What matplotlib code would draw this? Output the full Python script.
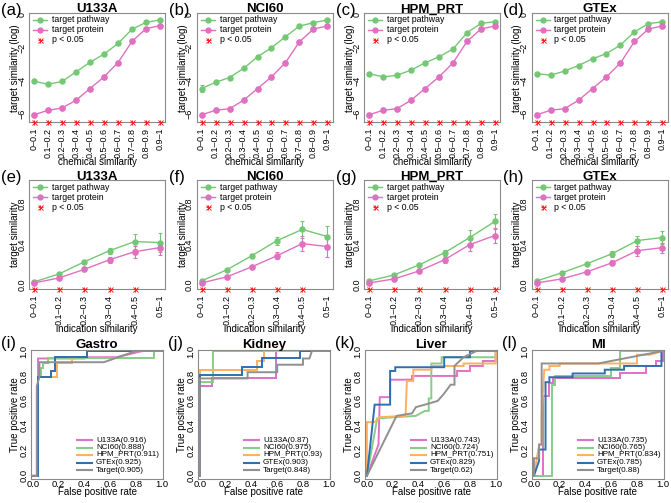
import matplotlib
matplotlib.use('Agg')
import matplotlib.pyplot as plt

plt.rcParams['font.family'] = ['Liberation Sans', 'DejaVu Sans']

# ---- data -------------------------------------------------------------
chem_bins = ['0–0.1', '0.1–0.2', '0.2–0.3', '0.3–0.4', '0.4–0.5',
             '0.5–0.6', '0.6–0.7', '0.7–0.8', '0.8–0.9', '0.9–1']
ind_bins = ['0–0.1', '0.1–0.2', '0.2–0.3', '0.3–0.4', '0.4–0.5', '0.5–1']
datasets = ['U133A', 'NCI60', 'HPM_PRT', 'GTEx']

# row 1: log target similarity vs chemical similarity
u133a_chem_pathway = [-4.02, -4.21, -4.04, -3.46, -2.87, -2.38, -1.73, -0.87, -0.45, -0.30]
u133a_chem_protein = [-6.06, -5.79, -5.65, -5.18, -4.47, -3.76, -2.89, -1.61, -0.83, -0.65]
nci60_chem_pathway = [-4.47, -4.09, -3.80, -3.25, -2.54, -1.99, -1.32, -0.67, -0.47, -0.30]
nci60_chem_protein = [-6.06, -5.79, -5.69, -5.18, -4.47, -3.76, -2.89, -1.63, -0.85, -0.67]
hpm_chem_pathway = [-3.56, -3.76, -3.66, -3.35, -2.91, -2.54, -2.07, -1.08, -0.51, -0.41]
hpm_chem_protein = [-6.06, -5.79, -5.69, -5.18, -4.47, -3.76, -2.91, -1.61, -0.85, -0.67]
gtex_chem_pathway = [-3.56, -3.66, -3.41, -3.07, -2.66, -2.34, -1.83, -1.02, -0.53, -0.41]
gtex_chem_protein = [-6.06, -5.79, -5.69, -5.18, -4.47, -3.76, -2.91, -1.61, -0.85, -0.67]
u133a_chem_pathway_err = [0.08, 0.06, 0.05, 0.04, 0.04, 0.04, 0.04, 0.05, 0.05, 0.05]
nci60_chem_pathway_err = [0.20, 0.08, 0.06, 0.05, 0.04, 0.04, 0.04, 0.05, 0.05, 0.05]
hpm_chem_pathway_err = [0.08, 0.06, 0.05, 0.04, 0.04, 0.04, 0.04, 0.05, 0.05, 0.05]
gtex_chem_pathway_err = [0.08, 0.06, 0.05, 0.04, 0.04, 0.04, 0.04, 0.05, 0.05, 0.05]
chem_protein_err = [0.10, 0.07, 0.06, 0.05, 0.05, 0.05, 0.05, 0.06, 0.06, 0.06]
u133a_chem_sig = [1, 1, 1, 1, 1, 1, 1, 1, 1, 1]
nci60_chem_sig = [1, 1, 1, 1, 1, 1, 1, 1, 1, 1]
hpm_chem_sig = [1, 1, 1, 1, 1, 1, 1, 1, 1, 1]
gtex_chem_sig = [1, 1, 1, 1, 1, 1, 1, 1, 1, 1]

# row 2: target similarity vs indication similarity
u133a_ind_pathway = [0.03, 0.11, 0.23, 0.34, 0.43, 0.42]
u133a_ind_protein = [0.02, 0.07, 0.155, 0.25, 0.33, 0.37]
nci60_ind_pathway = [0.04, 0.15, 0.29, 0.44, 0.55, 0.48]
nci60_ind_protein = [0.02, 0.08, 0.18, 0.29, 0.41, 0.38]
hpm_ind_pathway = [0.04, 0.10, 0.20, 0.32, 0.47, 0.63]
hpm_ind_protein = [0.02, 0.06, 0.14, 0.25, 0.40, 0.49]
gtex_ind_pathway = [0.04, 0.12, 0.21, 0.31, 0.44, 0.47]
gtex_ind_protein = [0.02, 0.06, 0.13, 0.22, 0.34, 0.37]
u133a_ind_pathway_err = [0.01, 0.01, 0.02, 0.03, 0.07, 0.09]
u133a_ind_protein_err = [0.01, 0.01, 0.02, 0.03, 0.06, 0.07]
nci60_ind_pathway_err = [0.01, 0.01, 0.02, 0.04, 0.085, 0.10]
nci60_ind_protein_err = [0.01, 0.01, 0.02, 0.035, 0.075, 0.10]
hpm_ind_pathway_err = [0.01, 0.01, 0.015, 0.03, 0.07, 0.075]
hpm_ind_protein_err = [0.01, 0.01, 0.015, 0.03, 0.065, 0.075]
gtex_ind_pathway_err = [0.01, 0.01, 0.015, 0.03, 0.05, 0.06]
gtex_ind_protein_err = [0.01, 0.01, 0.015, 0.025, 0.05, 0.05]
u133a_ind_sig = [1, 1, 1, 1, 1, 0]
nci60_ind_sig = [1, 1, 1, 1, 1, 0]
hpm_ind_sig = [1, 1, 1, 1, 1, 1]
gtex_ind_sig = [1, 1, 1, 1, 1, 1]

# row 3: ROC curves (fpr, tpr)
diseases = ['Gastro', 'Kidney', 'Liver', 'MI']
roc_sources = ['U133A', 'NCI60', 'HPM_PRT', 'GTEx', 'Target']
gastro_auc = [0.916, 0.888, 0.911, 0.925, 0.905]
kidney_auc = [0.87, 0.975, 0.93, 0.903, 0.848]
liver_auc = [0.743, 0.724, 0.751, 0.829, 0.62]
mi_auc = [0.735, 0.765, 0.834, 0.785, 0.88]

gastro_u133a = ([0, 0.04, 0.04, 0.10, 0.40, 0.40, 0.65, 0.85, 1],
                [0, 0, 0.94, 0.94, 0.94, 0.95, 0.95, 1.0, 1])
gastro_nci60 = ([0, 0.04, 0.04, 0.06, 0.06, 0.08, 0.08, 0.12, 0.12, 0.94, 0.94, 1],
                [0, 0, 0.79, 0.79, 0.86, 0.86, 0.90, 0.90, 0.94, 0.94, 1.0, 1])
gastro_hpm = ([0, 0.04, 0.04, 0.19, 0.19, 0.30, 0.30, 0.42, 0.42, 1],
              [0, 0, 0.79, 0.79, 0.90, 0.90, 0.95, 0.95, 1.0, 1])
gastro_gtex = ([0, 0.04, 0.04, 0.14, 0.14, 0.17, 0.17, 0.42, 0.42, 1],
               [0, 0, 0.79, 0.79, 0.84, 0.84, 0.95, 0.95, 1.0, 1])
gastro_target = ([0, 0.03, 0.03, 0.05, 0.05, 0.55, 0.80, 1],
                 [0, 0, 0.72, 0.79, 0.91, 0.91, 1.0, 1])

kidney_u133a = ([0, 0, 0.09, 0.09, 0.59, 0.59, 1],
                [0, 0.72, 0.72, 0.78, 0.78, 1.0, 1])
kidney_nci60 = ([0, 0, 0.10, 0.10, 1],
                [0, 0.75, 0.75, 1.0, 1])
kidney_hpm = ([0, 0, 0.44, 0.44, 0.50, 0.50, 1],
              [0, 0.85, 0.85, 0.92, 0.92, 1.0, 1])
kidney_gtex = ([0, 0, 0.33, 0.33, 0.48, 0.48, 0.78, 0.78, 1],
               [0, 0.81, 0.81, 0.87, 0.87, 0.94, 0.94, 1.0, 1])
kidney_target = ([0, 0, 0.37, 0.37, 0.60, 0.60, 0.80, 0.80, 0.85, 0.87, 1],
                 [0, 0.78, 0.78, 0.83, 0.83, 0.89, 0.89, 0.94, 0.94, 1.0, 1])

liver_u133a = ([0, 0.09, 0.10, 0.18, 0.18, 0.35, 0.35, 0.70, 0.70, 0.80, 0.80, 0.90, 0.90, 1, 1],
               [0, 0.25, 0.63, 0.63, 0.77, 0.77, 0.80, 0.80, 0.84, 0.84, 0.88, 0.88, 0.92, 0.92, 1])
liver_nci60 = ([0, 0.08, 0.38, 0.45, 0.48, 0.48, 0.50, 0.50, 0.58, 0.58, 1, 1],
               [0, 0.46, 0.48, 0.52, 0.52, 0.62, 0.62, 0.90, 0.90, 0.95, 0.95, 1])
liver_hpm = ([0, 0, 0.06, 0.10, 0.30, 0.31, 0.36, 0.36, 0.50, 0.50, 0.75, 0.75, 1, 1],
             [0, 0.43, 0.43, 0.47, 0.48, 0.76, 0.76, 0.85, 0.85, 0.88, 0.88, 0.90, 0.90, 1])
liver_gtex = ([0, 0.06, 0.18, 0.18, 0.22, 0.22, 0.60, 0.60, 0.80, 0.80, 1],
              [0, 0.57, 0.57, 0.84, 0.84, 0.87, 0.87, 0.95, 0.95, 1.0, 1])
liver_target = ([0, 0.23, 0.35, 0.38, 0.45, 0.55, 0.60, 0.65, 0.68, 0.68, 0.75, 0.85, 1],
                [0, 0.48, 0.50, 0.55, 0.57, 0.60, 0.66, 0.73, 0.73, 0.88, 0.95, 1.0, 1])

mi_u133a = ([0, 0.07, 0.07, 0.12, 0.12, 0.15, 0.15, 0.67, 0.67, 0.87, 0.87, 0.95, 0.95, 1, 1],
            [0, 0, 0.64, 0.64, 0.74, 0.74, 0.78, 0.78, 0.82, 0.82, 0.88, 0.88, 0.92, 0.92, 1])
mi_nci60 = ([0, 0.14, 0.14, 0.16, 0.16, 0.60, 0.60, 0.67, 0.67, 1],
            [0, 0, 0.73, 0.73, 0.80, 0.80, 0.86, 0.86, 1.0, 1])
mi_hpm = ([0, 0.04, 0.06, 0.06, 0.08, 0.12, 0.12, 0.20, 0.20, 0.80, 0.80, 0.90, 1],
          [0, 0.25, 0.25, 0.50, 0.85, 0.85, 0.88, 0.88, 0.90, 0.90, 0.97, 0.97, 1])
mi_gtex = ([0, 0.04, 0.04, 0.09, 0.09, 0.12, 0.12, 0.30, 0.30, 0.55, 0.55, 0.70, 0.70, 0.99, 0.99],
           [0, 0.12, 0.21, 0.21, 0.75, 0.75, 0.79, 0.79, 0.82, 0.82, 0.85, 0.85, 0.88, 0.88, 1.0])
mi_target = ([0, 0, 0.04, 0.04, 0.06, 0.06, 0.50, 1.0],
             [0, 0.14, 0.14, 0.25, 0.25, 0.90, 0.90, 1.0])

# ---- styling ----------------------------------------------------------
GREEN = '#74c874'
PINK = '#e070c0'
STAR = '#ff2020'
ROC_COLORS = ['#e070c8', '#88cc88', '#ffb060', '#2f6fb0', '#909090']
BOX = '#8a8a8a'

W, H = 671, 503
fig = plt.figure(figsize=(W / 100, H / 100), dpi=100)


def px_axes(x0, y0, w, h):
    return fig.add_axes([x0 / W, 1 - (y0 + h) / H, w / W, h / H])


def ftext(x, y, s, **kw):
    fig.text(x / W, 1 - y / H, s, **kw)


def asterisk(ax, xs, ys, transform, size=3.6):
    # R-style pch=8: a "+" over an "x"
    for mk in ('+', 'x'):
        ax.plot(xs, ys, ls='', marker=mk, ms=size, mew=0.7, color=STAR,
                transform=transform, clip_on=False, zorder=5)


def style_box(ax, fs):
    for sp in ax.spines.values():
        sp.set_color(BOX)
        sp.set_linewidth(0.8)
    ax.tick_params(length=0, labelsize=fs, pad=2, colors='black')
    ax.tick_params(axis='y', labelrotation=90)
    for lab in ax.get_yticklabels():
        lab.set_va('center')


def legend_px(ax, w, h, rows, x_line, x_text, y_rows, fs):
    # rows: (color, kind, label); positions in px inside the box
    tr = ax.transAxes
    xm = (x_line[0] + x_line[1]) / 2 / w
    for (col, kind, lab), yy in zip(rows, y_rows):
        yf = 1 - yy / h
        if kind == 'line':
            ax.plot([x_line[0] / w, x_line[1] / w], [yf, yf], color=col, lw=1.5,
                    transform=tr, clip_on=False)
        elif kind == 'star':
            asterisk(ax, [xm], [yf], tr)
        else:
            ax.plot([x_line[0] / w, x_line[1] / w], [yf, yf], color=col, lw=1,
                    transform=tr, clip_on=False)
            ax.plot([xm], [yf], ls='', marker='o', color=col, ms=3.5,
                    transform=tr, clip_on=False)
        ax.text(x_text / w, yf, lab, transform=tr, fontsize=fs, va='center', ha='left')


def sim_panel(ax, cats, pathway, path_err, protein, prot_err, sig, ylim, w, h):
    x = list(range(1, len(cats) + 1))
    ax.errorbar(x, pathway, yerr=path_err, color=GREEN, lw=1, marker='o', ms=3.6,
                elinewidth=0.8, capsize=1.5, capthick=0.8, zorder=3)
    ax.errorbar(x, protein, yerr=prot_err, color=PINK, lw=1, marker='o', ms=3.8,
                elinewidth=0.8, capsize=1.5, capthick=0.8, zorder=3)
    xs = [xi for xi, s in zip(x, sig) if s]
    asterisk(ax, xs, [0] * len(xs), ax.get_xaxis_transform())
    pad = 0.04 * (len(cats) - 1)
    ax.set_xlim(1 - pad, len(cats) + pad)
    ax.set_ylim(*ylim)
    ax.set_xticks(x)
    ax.set_xticklabels(cats, rotation=90)
    style_box(ax, 6.5)
    ax.tick_params(axis='x', pad=4)
    legend_px(ax, w, h, [(GREEN, 'dot', 'target pathway'), (PINK, 'dot', 'target protein'),
                         (STAR, 'star', 'p < 0.05')],
              (4, 18), 23, [7, 17, 27], 6.3)


# ---- row 1 ------------------------------------------------------------
row1 = [(u133a_chem_pathway, u133a_chem_pathway_err, u133a_chem_protein, u133a_chem_sig),
        (nci60_chem_pathway, nci60_chem_pathway_err, nci60_chem_protein, nci60_chem_sig),
        (hpm_chem_pathway, hpm_chem_pathway_err, hpm_chem_protein, hpm_chem_sig),
        (gtex_chem_pathway, gtex_chem_pathway_err, gtex_chem_protein, gtex_chem_sig)]
letters1 = ['(a)', '(b)', '(c)', '(d)']
for i, (pw, pwe, pr, sg) in enumerate(row1):
    x0 = 29 + 167.5 * i
    ax = px_axes(x0, 13, 136, 109)
    sim_panel(ax, chem_bins, pw, pwe, pr, chem_protein_err, sg, (-6.5, 0.12), 136, 109)
    ax.set_yticks([0, -2, -4, -6])
    for lab in ax.get_yticklabels():
        lab.set_va('center')
    ftext(x0 + 68, 12.5, datasets[i], fontsize=9.5, fontweight='bold', ha='center', va='baseline')
    ftext(x0 - 28, 15, letters1[i], fontsize=12, ha='left', va='baseline')
    ftext(x0 + 68, 162, 'chemical similarity', fontsize=7, ha='center', va='center')
    ftext(x0 - 14, 68, 'target similarity (log)', fontsize=7, rotation=90, ha='center', va='center')

# ---- row 2 ------------------------------------------------------------
row2 = [(u133a_ind_pathway, u133a_ind_pathway_err, u133a_ind_protein, u133a_ind_protein_err, u133a_ind_sig),
        (nci60_ind_pathway, nci60_ind_pathway_err, nci60_ind_protein, nci60_ind_protein_err, nci60_ind_sig),
        (hpm_ind_pathway, hpm_ind_pathway_err, hpm_ind_protein, hpm_ind_protein_err, hpm_ind_sig),
        (gtex_ind_pathway, gtex_ind_pathway_err, gtex_ind_protein, gtex_ind_protein_err, gtex_ind_sig)]
letters2 = ['(e)', '(f)', '(g)', '(h)']
for i, (pw, pwe, pr, pre, sg) in enumerate(row2):
    x0 = 29 + 167.5 * i
    ax = px_axes(x0, 180, 136, 109)
    sim_panel(ax, ind_bins, pw, pwe, pr, pre, sg, (-0.04, 1.04), 136, 109)
    ax.set_yticks([0, 0.4, 0.8])
    ax.set_yticklabels(['0.0', '0.4', '0.8'], rotation=90, va='center')
    ftext(x0 + 68, 179.5, datasets[i], fontsize=9.5, fontweight='bold', ha='center', va='baseline')
    ftext(x0 - 28, 182, letters2[i], fontsize=12, ha='left', va='baseline')
    ftext(x0 + 68, 329, 'indication similarity', fontsize=7, ha='center', va='center')
    ftext(x0 - 14, 234.5, 'target similarity', fontsize=7, rotation=90, ha='center', va='center')

# ---- row 3 ------------------------------------------------------------
roc_rows = [(gastro_u133a, gastro_nci60, gastro_hpm, gastro_gtex, gastro_target),
            (kidney_u133a, kidney_nci60, kidney_hpm, kidney_gtex, kidney_target),
            (liver_u133a, liver_nci60, liver_hpm, liver_gtex, liver_target),
            (mi_u133a, mi_nci60, mi_hpm, mi_gtex, mi_target)]
roc_aucs = [gastro_auc, kidney_auc, liver_auc, mi_auc]
letters3 = ['(i)', '(j)', '(k)', '(l)']
for i, curves in enumerate(roc_rows):
    x0 = 31 + 167 * i
    ax = px_axes(x0, 350, 132, 129)
    for (fpr, tpr), col in zip(curves, ROC_COLORS):
        ax.plot(fpr, tpr, color=col, lw=1.4, solid_joinstyle='miter')
    ax.set_xlim(-0.015, 1.01)
    ax.set_ylim(-0.026, 1.008)
    ticks = [0, 0.2, 0.4, 0.6, 0.8, 1.0]
    tl = ['0.0', '0.2', '0.4', '0.6', '0.8', '1.0']
    ax.set_xticks(ticks)
    ax.set_xticklabels(tl)
    ax.set_yticks(ticks)
    ax.set_yticklabels(tl)
    style_box(ax, 6.8)
    ax.tick_params(axis='x', pad=1)
    labels = ['%s(%s)' % (s, a) for s, a in zip(roc_sources, roc_aucs[i])]
    legend_px(ax, 132, 129, [(c, 'line', l) for c, l in zip(ROC_COLORS, labels)],
              (46, 61), 65, [90, 97.5, 105, 112.5, 120], 5.8)
    ftext(x0 + 66, 348, diseases[i], fontsize=9.5, fontweight='bold', ha='center', va='baseline')
    ftext(x0 - 30, 348, letters3[i], fontsize=12, ha='left', va='baseline')
    ftext(x0 + 66, 492, 'False positive rate', fontsize=7, ha='center', va='center')
    ftext(x0 - 16, 415, 'True positive rate', fontsize=7, rotation=90, ha='center', va='center')

fig.savefig('out.png', dpi=100)
